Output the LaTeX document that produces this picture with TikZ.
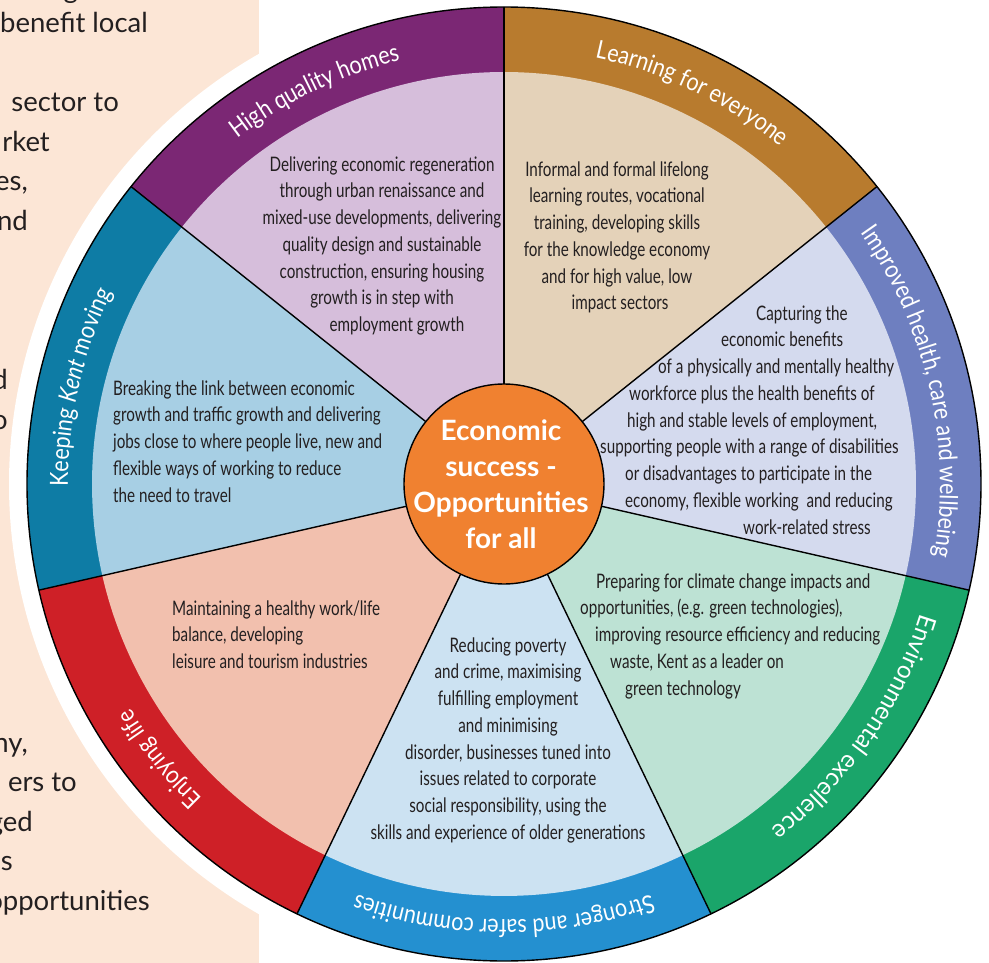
\documentclass[tikz,border=0pt]{standalone}
\usepackage{fontspec}
\setmainfont{Lato}
\newfontfamily\condfont[FakeStretch=0.76]{Lato}
\newfontfamily\bandfam[FakeStretch=0.86]{Lato}
\newfontfamily\bandwide[FakeStretch=0.95]{Lato}
\usetikzlibrary{calc,decorations.text}
\definecolor{ink}{HTML}{231F20}
\definecolor{peach}{HTML}{FCE6D6}
\definecolor{hubor}{HTML}{F08130}
\definecolor{hqband}{HTML}{7B2774}
\definecolor{hqlight}{HTML}{D6BEDB}
\definecolor{learnband}{HTML}{B87B2E}
\definecolor{learnlight}{HTML}{E4D2B9}
\definecolor{healthband}{HTML}{6E7FC0}
\definecolor{healthlight}{HTML}{D4DAEE}
\definecolor{envband}{HTML}{1AA56A}
\definecolor{envlight}{HTML}{BDE2D4}
\definecolor{strongband}{HTML}{2490D0}
\definecolor{stronglight}{HTML}{CCE2F2}
\definecolor{enjoyband}{HTML}{CE2027}
\definecolor{enjoylight}{HTML}{F2C0AE}
\definecolor{keepband}{HTML}{0E7CA5}
\definecolor{keeplight}{HTML}{A7CFE4}
\newcommand\bodyfont{\condfont\fontsize{20}{26.75}\selectfont}
\newcommand\bandfont{\bandfam\fontsize{25}{29}\selectfont}
\newcommand\bandfontwide{\bandwide\fontsize{25}{29}\selectfont}
\newcommand\hubfont{\fontsize{28}{36}\selectfont\bfseries}
\newcommand\panelfont{\fontsize{27.5}{39.5}\selectfont}
\newcommand\tstrut{\rule{0pt}{16pt}}
\begin{document}
\begin{tikzpicture}[x=1pt,y=1pt,
  body/.style={font=\bodyfont, text=ink, inner sep=0pt},
  panel/.style={font=\panelfont, text=ink, inner sep=0pt, anchor=base east},
  divider/.style={draw=black, line width=1.4pt},
  bandlabel/.style={decorate, decoration={text along path, text align=center, text color=white, text={#1}}}
]
\useasboundingbox (0,0) rectangle (989,-963);
\fill[peach] (0,0) rectangle (259,-963);
% left panel fragments
\node[panel] (p0) at (78,1) {g};
\node[panel] (p1) at (148,-33) {benefit local};
\node[panel] (p2) at (119,-112) {sector to};
\node[panel] (p3) at (50,-152) {rket};
\node[panel] (p4) at (28,-191) {es,};
\node[panel] (p5) at (28,-231) {nd};
\node[panel] (p6) at (8,-389) {d};
\node[panel] (p7) at (8,-429) {o};
\node[panel] (p8) at (28,-752) {ny,};
\node[panel] (p9) at (77,-791) {ers to};
\node[panel] (p10) at (33,-831) {ged};
\node[panel] (p11) at (13,-870) {s};
\node[panel] (p12) at (150,-910) {opportunities};
% wheel
\coordinate (C) at (504,-484);
\fill[white] (C) circle[radius=495];
\foreach \i/\band/\light in {0/hqband/hqlight,1/keepband/keeplight,2/enjoyband/enjoylight,3/strongband/stronglight,4/envband/envlight,5/healthband/healthlight,6/learnband/learnlight}{
  \pgfmathsetmacro\angA{90+\i*360/7}
  \pgfmathsetmacro\angB{90+(\i+1)*360/7}
  \fill[\band] (C) -- ($(C)+(\angA:477)$) arc[start angle=\angA, end angle=\angB, radius=477] -- cycle;
  \fill[\light] (C) -- ($(C)+(\angA:412)$) arc[start angle=\angA, end angle=\angB, radius=412] -- cycle;
}
\foreach \i in {0,...,6}{
  \draw[divider] (C) -- ($(C)+({90+\i*360/7}:477)$);
}
\draw[line width=1.4pt] (C) circle[radius=477];
\node[circle, fill=hubor, draw=black, line width=1.4pt, minimum size=200pt, inner sep=0pt] (hub) at (C) {};
% band labels
\path[bandlabel={|\bandfont|High quality homes}] ($(C)+(141.4286:436)$) arc[start angle=141.4286, end angle=90, radius=436];
\path[bandlabel={|\bandfont|Keeping |\bandfont\itshape|Kent|\bandfont\upshape| moving}] ($(C)+(192.8571:436)$) arc[start angle=192.8571, end angle=141.4286, radius=436];
\path[bandlabel={|\bandfont|Enjoying life}] ($(C)+(244.2857:436)$) arc[start angle=244.2857, end angle=192.8571, radius=436];
\path[bandlabel={|\bandfont|Stronger and safer communities}] ($(C)+(295.7143:436)$) arc[start angle=295.7143, end angle=244.2857, radius=436];
\path[bandlabel={|\bandfontwide|Environmental excellence}] ($(C)+(351:436)$) arc[start angle=351, end angle=299.5, radius=436];
\path[bandlabel={|\bandfont|Improved health, care and wellbeing}] ($(C)+(398.5714:436)$) arc[start angle=398.5714, end angle=347.1429, radius=436];
\path[bandlabel={|\bandfont|Learning for everyone}] ($(C)+(90:436)$) arc[start angle=90, end angle=38.5714, radius=436];
% sector texts
\node[body, anchor=north, align=center] (hqtext) at (382,-155) {\tstrut Delivering economic regeneration\\ through urban renaissance and\\ mixed-use developments, delivering\\ quality design and sustainable\\ construction, ensuring housing\\ growth is in step with\\ \hspace*{30pt}employment growth};
\node[body, anchor=north, align=center] (learntext) at (617,-160) {\tstrut Informal and formal lifelong\\ learning routes, vocational\\ training, developing skills\\ for the knowledge economy\\ and for high value, low\\ \hspace*{6pt}impact sectors};
\node[body, anchor=north west, align=left] (healthtext) at (600,-304) {\hspace*{156pt}\tstrut Capturing the\\ \hspace*{121pt}economic benefits\\ \hspace*{58pt}of a physically and mentally healthy\\ \hspace*{29pt}workforce plus the health benefits of\\ \hspace*{27pt}high and stable levels of employment,\\ supporting people with a range of disabilities\\ \hspace*{25pt}or disadvantages to participate in the\\ \hspace*{25pt}economy, flexible working \ and reducing\\ \hspace*{143pt}work-related stress};
\node[body, anchor=north west, align=left] (envtext) at (580,-572) {\hspace*{16pt}\tstrut Preparing for climate change impacts and\\ opportunities, (e.g. green technologies),\\ \hspace*{15pt}improving resource efficiency and reducing\\ \hspace*{30pt}waste, Kent as a leader on\\ \hspace*{45pt}green technology};
\node[body, anchor=north, align=center] (strongtext) at (508,-636) {\tstrut Reducing poverty\\ and crime, maximising\\ fulfilling employment\\ and minimising\\ disorder, businesses tuned into\\ issues related to corporate\\ social responsibility, using the\\ skills and experience of older generations};
\node[body, anchor=north west, align=left] (keeptext) at (113,-379) {\tstrut Breaking the link between economic\\ growth and traffic growth and delivering\\ jobs close to where people live, new and\\ flexible ways of working to reduce\\ the need to travel};
\node[body, anchor=north west, align=left] (enjoytext) at (172,-599) {\tstrut Maintaining a healthy work/life\\ balance, developing\\ leisure and tourism industries};
\node[font=\hubfont, text=white, align=center, anchor=north, inner sep=0pt] (hubtext) at (501,-418) {\rule{0pt}{22pt}Economic\\ success -\\ Opportunities\\ for all};
\end{tikzpicture}
\end{document}
